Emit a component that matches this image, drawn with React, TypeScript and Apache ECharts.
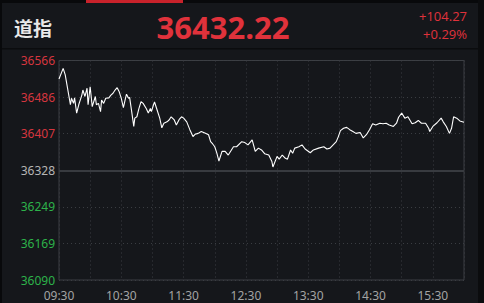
import React, { useEffect, useRef } from "react";
import * as echarts from "echarts";

const indexName = "道指";
const lastPrice = "36432.22";
const change = "+104.27";
const changePct = "+0.29%";
const prevClose = 36327.95;

const yMin = 36090;
const yMax = 36566;
const yLabels = ["36090", "36169", "36249", "36328", "36407", "36486", "36566"];
const xLabels = ["09:30", "", "10:30", "", "11:30", "", "12:30", "", "13:30", "", "14:30", "", "15:30", ""];

const minutes = [
  0, 4, 6, 8, 11, 12, 14, 15, 17, 19, 22, 23, 25, 27, 28, 30, 32, 35, 36, 38,
  40, 41, 43, 45, 48, 50, 52, 54, 56, 58, 60, 62, 64, 65, 67, 68, 70, 72, 73, 75,
  77, 79, 81, 84, 86, 88, 89, 91, 92, 94, 97, 99, 101, 104, 106, 108, 111, 113, 116, 118,
  120, 123, 126, 129, 131, 134, 137, 141, 144, 146, 148, 150, 152, 154, 157, 160, 163, 168, 171, 176,
  179, 182, 186, 189, 192, 195, 198, 202, 205, 206, 210, 212, 215, 218, 220, 223, 225, 227, 231, 234,
  237, 242, 245, 250, 255, 258, 261, 264, 267, 269, 271, 274, 277, 280, 283, 286, 290, 293, 296, 299,
  302, 305, 309, 312, 315, 318, 322, 325, 327, 330, 333, 336, 340, 343, 346, 349, 353, 356, 357, 360,
  364, 368, 370, 373, 376, 378, 380, 383, 386, 390,
];

const prices = [
  36526, 36549, 36535, 36509, 36470, 36484, 36473, 36485, 36452, 36470, 36491, 36502, 36488, 36506, 36470, 36509, 36466, 36488, 36470, 36473,
  36455, 36480, 36473, 36484, 36485, 36491, 36495, 36502, 36507, 36498, 36484, 36464, 36484, 36493, 36484, 36486, 36455, 36423, 36441, 36444,
  36462, 36477, 36473, 36462, 36452, 36462, 36455, 36470, 36476, 36462, 36441, 36420, 36430, 36433, 36437, 36444, 36437, 36426, 36439, 36444,
  36441, 36433, 36416, 36401, 36406, 36408, 36412, 36408, 36405, 36390, 36385, 36379, 36365, 36348, 36369, 36369, 36361, 36379, 36379, 36390,
  36388, 36383, 36394, 36369, 36376, 36372, 36364, 36361, 36347, 36335, 36358, 36352, 36361, 36354, 36352, 36372, 36365, 36376, 36379, 36383,
  36374, 36366, 36372, 36376, 36379, 36374, 36376, 36383, 36390, 36401, 36414, 36419, 36421, 36416, 36412, 36408, 36410, 36398, 36405, 36416,
  36429, 36426, 36430, 36429, 36430, 36426, 36423, 36430, 36443, 36452, 36441, 36444, 36429, 36431, 36436, 36430, 36430, 36419, 36412, 36423,
  36431, 36441, 36433, 36423, 36408, 36419, 36444, 36441, 36435, 36432.22,
];

const RED = "#e0323b";
const GREEN = "#2db24a";
const LABEL_FONT = "'Noto Sans', 'DejaVu Sans', sans-serif";

export default function App() {
  const ref = useRef<HTMLDivElement>(null);

  useEffect(() => {
    if (!ref.current) return;
    const chart = echarts.init(ref.current, undefined, { renderer: "svg" });
    const data = minutes.map((m, i) => [m, prices[i]]);

    chart.setOption({
      animation: false,
      backgroundColor: "#15171b",
      grid: {
        left: 59,
        right: 20,
        top: 60.5,
        bottom: 23,
        show: true,
        borderColor: "#3c3f44",
        borderWidth: 1,
        backgroundColor: "transparent",
      },
      xAxis: {
        type: "value",
        min: 0,
        max: 390,
        interval: 30,
        axisLine: { show: false },
        axisTick: { show: false },
        splitLine: { show: true, lineStyle: { color: "#3a3d42", type: [1, 3], width: 1 } },
        axisLabel: {
          color: "#a3a3a3",
          fontSize: 12,
          lineHeight: 12,
          fontFamily: LABEL_FONT,
          margin: 9,
          formatter: (_v: number, i: number) => xLabels[i] ?? "",
        },
      },
      yAxis: {
        type: "value",
        min: yMin,
        max: yMax,
        interval: (yMax - yMin) / 6,
        axisLine: { show: false },
        axisTick: { show: false },
        splitLine: { show: true, lineStyle: { color: "#3a3d42", type: [1, 3], width: 1 } },
        axisLabel: {
          fontSize: 12,
          lineHeight: 12,
          fontFamily: LABEL_FONT,
          margin: 4,
          formatter: (_v: number, i: number) => yLabels[i] ?? "",
          color: (v: any) => {
            const n = Number(v);
            if (n > prevClose + 5) return "#d5363f";
            if (n < prevClose - 5) return GREEN;
            return "#b5b5b5";
          },
        },
      },
      series: [
        {
          type: "line",
          data,
          showSymbol: false,
          symbol: "none",
          lineStyle: { color: "#ffffff", width: 1.1 },
          markLine: {
            silent: true,
            symbol: "none",
            label: { show: false },
            lineStyle: { color: "#383b40", width: 2, type: "solid" },
            data: [{ yAxis: prevClose }],
          },
          z: 5,
        },
      ],
      graphic: [
        { type: "rect", shape: { x: 0, y: 0, width: 484, height: 3 }, style: { fill: "#08090b" }, z: 100 },
        { type: "rect", shape: { x: 0, y: 0, width: 2, height: 303 }, style: { fill: "#08090b" }, z: 100 },
        { type: "rect", shape: { x: 478, y: 0, width: 6, height: 303 }, style: { fill: "#0b0c0e" }, z: 100 },
        { type: "rect", shape: { x: 86, y: 0, width: 97, height: 3 }, style: { fill: "#c8222b" }, z: 101 },
        { type: "rect", shape: { x: 2, y: 48, width: 476, height: 1.5 }, style: { fill: "#0b0c0e" }, z: 100 },
        {
          type: "text",
          x: 14,
          y: 27,
          z: 101,
          style: {
            text: indexName,
            fill: "#e8e8e8",
            font: "bold 19px 'Noto Sans CJK SC', sans-serif",
            textAlign: "left",
            textVerticalAlign: "middle",
            align: "left",
            verticalAlign: "middle",
          },
        },
        {
          type: "text",
          x: 223,
          y: 27,
          z: 101,
          style: {
            text: lastPrice,
            fill: RED,
            font: "bold 31px 'Open Sans', 'Noto Sans', sans-serif",
            textAlign: "center",
            textVerticalAlign: "middle",
            align: "center",
            verticalAlign: "middle",
          },
        },
        {
          type: "text",
          x: 467,
          y: 16,
          z: 101,
          style: {
            text: change,
            fill: RED,
            font: "13px 'Open Sans', 'Noto Sans', sans-serif",
            textAlign: "right",
            textVerticalAlign: "middle",
            align: "right",
            verticalAlign: "middle",
          },
        },
        {
          type: "text",
          x: 467,
          y: 34,
          z: 101,
          style: {
            text: changePct,
            fill: RED,
            font: "13px 'Open Sans', 'Noto Sans', sans-serif",
            textAlign: "right",
            textVerticalAlign: "middle",
            align: "right",
            verticalAlign: "middle",
          },
        },
      ],
    });

    return () => chart.dispose();
  }, []);

  return (
    <div
      ref={ref}
      style={{ position: "absolute", left: 0, top: 0, width: 484, height: 303 }}
    />
  );
}
